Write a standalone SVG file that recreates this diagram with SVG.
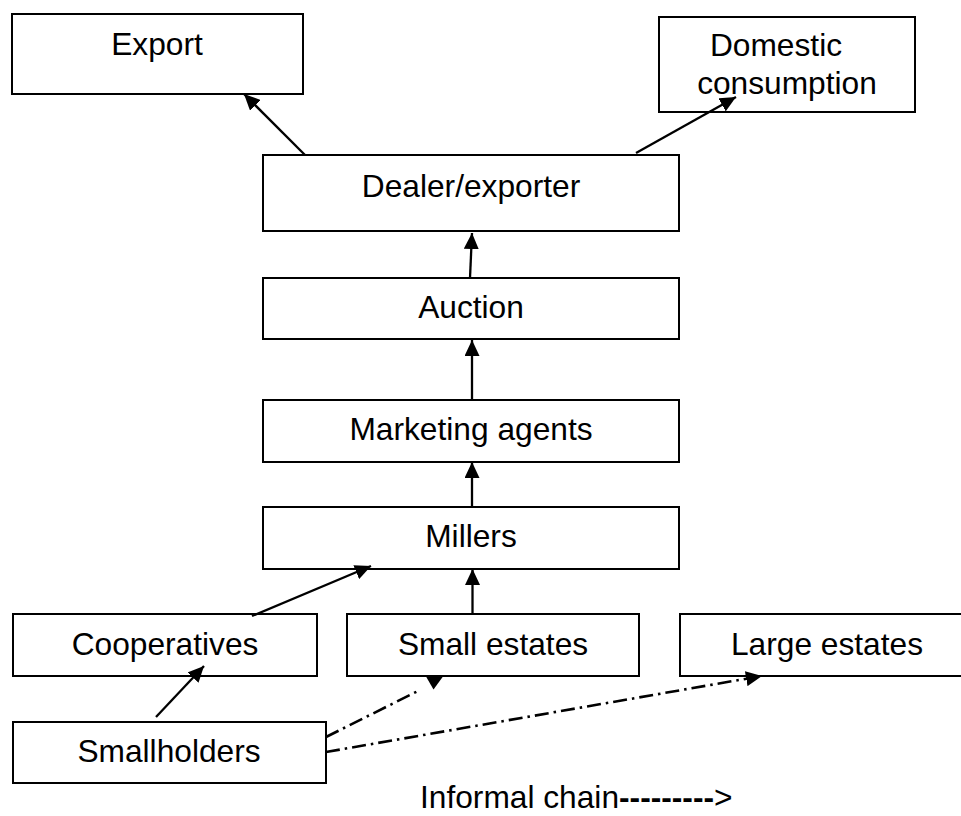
<svg xmlns="http://www.w3.org/2000/svg" width="961" height="816" viewBox="0 0 961 816">
<style>
.box{fill:#fff;stroke:#000;stroke-width:2}
.lbl{font-family:"Liberation Sans",Arial,sans-serif;font-size:31.7px;fill:#000;text-anchor:middle}
.arr{stroke:#000;stroke-width:2.3;fill:none}
.dd{stroke:#000;stroke-width:2.6;fill:none;stroke-dasharray:14 5 2.5 5}
</style>
<defs>
<marker id="ah" markerUnits="userSpaceOnUse" markerWidth="16" markerHeight="15" refX="16" refY="7.5" orient="auto">
<path d="M0,0 L16,7.5 L0,15 z" fill="#000"/>
</marker>
</defs>
<rect width="961" height="816" fill="#fff"/>
<g id="export"><rect class="box" x="12" y="14" width="291" height="80"/><text class="lbl" x="157" y="55">Export</text></g>
<g id="domestic"><rect class="box" x="659" y="17" width="256" height="95"/><text class="lbl" x="776" y="56">Domestic</text><text class="lbl" x="787" y="93.5">consumption</text></g>
<g id="dealer"><rect class="box" x="263" y="155" width="416" height="76"/><text class="lbl" x="471" y="197">Dealer/exporter</text></g>
<g id="auction"><rect class="box" x="263" y="278" width="416" height="61"/><text class="lbl" x="471" y="318">Auction</text></g>
<g id="marketing"><rect class="box" x="263" y="400" width="416" height="62"/><text class="lbl" x="471" y="440">Marketing agents</text></g>
<g id="millers"><rect class="box" x="263" y="507" width="416" height="62"/><text class="lbl" x="471" y="547">Millers</text></g>
<g id="cooperatives"><rect class="box" x="13" y="614" width="304" height="62"/><text class="lbl" x="165" y="655">Cooperatives</text></g>
<g id="small-estates"><rect class="box" x="347" y="614" width="292" height="62"/><text class="lbl" x="493" y="655">Small estates</text></g>
<g id="large-estates"><rect class="box" x="680" y="614" width="293" height="62"/><text class="lbl" x="827" y="655">Large estates</text></g>
<g id="smallholders"><rect class="box" x="13" y="722" width="313" height="61"/><text class="lbl" x="169" y="762">Smallholders</text></g>
<g id="connectors">
<line class="arr" x1="305" y1="155" x2="244" y2="94" marker-end="url(#ah)"/>
<line class="arr" x1="636" y1="153" x2="736" y2="97" marker-end="url(#ah)"/>
<line class="arr" x1="470" y1="278" x2="472" y2="233" marker-end="url(#ah)"/>
<line class="arr" x1="472" y1="400" x2="472" y2="340" marker-end="url(#ah)"/>
<line class="arr" x1="472" y1="507" x2="472" y2="462" marker-end="url(#ah)"/>
<line class="arr" x1="252" y1="616" x2="371" y2="566" marker-end="url(#ah)"/>
<line class="arr" x1="472.5" y1="614" x2="472.5" y2="569" marker-end="url(#ah)"/>
<line class="arr" x1="156" y1="717" x2="204" y2="666" marker-end="url(#ah)"/>
<line class="dd" x1="326" y1="737" x2="420" y2="690"/>
<polygon points="426,676.5 443,676.5 433.5,689.5" fill="#000"/>
<line class="dd" x1="326" y1="752" x2="762" y2="676" marker-end="url(#ah)"/>
</g>
<text x="420" y="808" style="font-family:'Liberation Sans',Arial,sans-serif;font-size:31.7px;fill:#000">Informal chain<tspan font-weight="bold">---------</tspan>&gt;</text>
</svg>
